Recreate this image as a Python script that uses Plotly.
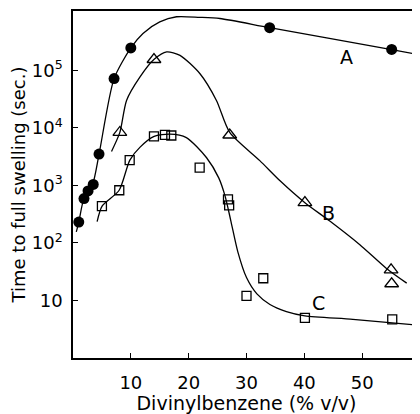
import plotly.graph_objects as go

# Measured points
a_x = [1.0, 1.9, 2.6, 3.5, 4.5, 7.1, 10.0, 34.0, 55.1]
a_y = [230, 590, 800, 1040, 3500, 71600, 245000, 550000, 230000]

b_x = [8.1, 14.0, 27.1, 40.1, 55.0, 55.1]
b_y = [8300, 154000, 7500, 500, 34, 19.5]

c_x = [5.0, 8.0, 9.8, 14.0, 15.9, 17.0, 21.9, 26.8, 27.0, 30.0, 32.9, 40.1, 55.2, 60.0]
c_y = [437, 822, 2750, 7100, 7520, 7360, 2040, 571, 449, 12, 24.3, 5.0, 4.7, 2.95]

# Hand-drawn fitted curves
ca_x = [0.57, 1.0, 1.9, 3.4, 4.5, 7.1, 10.0, 12.1, 15.0, 17.9, 21.9, 25.4, 34.0, 55.1, 58.8]
ca_y = [155, 230, 600, 1050, 3470, 71600, 245000, 437000, 692000, 851000, 832000, 794000, 550000, 229000, 195000]

cb_x = [6.66, 8.1, 9.26, 11.56, 14.03, 16.2, 18.5, 21.96, 24.8, 27.1, 32.3, 35.8, 40.1, 44.4, 49.6, 54.2, 57.7]
cb_y = [3890, 8320, 29900, 75900, 155000, 209000, 182000, 87100, 29900, 8320, 2690, 1200, 500, 240, 93, 36, 20]

cc_x = [4.17, 5.03, 7.98, 9.83, 11.56, 14.03, 16.75, 19.6, 23.1, 25.2, 26.3, 27.3, 28.5, 30.0, 31.8, 34.05, 36.9, 40.1, 48.4, 60.0]
cc_y = [234, 437, 822, 2750, 4570, 7080, 7760, 6760, 3020, 1350, 650, 240, 70, 25, 13, 8.5, 6.4, 5.4, 4.7, 3.7]

x_ticks = [10, 20, 30, 40, 50]
y_ticks = [10, 100, 1000, 10000, 100000]
y_tick_text = ["10", "10<sup>2</sup>", "10<sup>3</sup>", "10<sup>4</sup>", "10<sup>5</sup>"]

FONT = "DejaVu Sans"
line = dict(color="black", width=1.3, shape="spline", smoothing=0.7)

fig = go.Figure()
fig.add_trace(go.Scatter(x=ca_x, y=ca_y, mode="lines", line=line, hoverinfo="skip"))
fig.add_trace(go.Scatter(x=cb_x, y=cb_y, mode="lines", line=line, hoverinfo="skip"))
fig.add_trace(go.Scatter(x=cc_x, y=cc_y, mode="lines", line=line, hoverinfo="skip"))

fig.add_trace(go.Scatter(x=a_x, y=a_y, mode="markers",
                         marker=dict(symbol="circle", size=11, color="black")))
fig.add_trace(go.Scatter(x=b_x, y=b_y, mode="markers",
                         marker=dict(symbol="triangle-up-open", size=12, color="black",
                                     line=dict(width=1.3))))
fig.add_trace(go.Scatter(x=c_x, y=c_y, mode="markers",
                         marker=dict(symbol="square-open", size=9, color="black",
                                     line=dict(width=1.3))))

for txt, x, y in [("A", 47.3, 5.23), ("B", 44.1, 2.52), ("C", 42.4, 0.95)]:
    fig.add_annotation(x=x, y=y, text=txt, showarrow=False,
                       font=dict(family=FONT, size=19, color="black"))

# The page body adds an 8px margin, so the figure is sized/offset to compensate.
fig.update_layout(
    width=412, height=406,
    margin=dict(l=65, r=0, t=3, b=56),
    paper_bgcolor="white", plot_bgcolor="white",
    showlegend=False,
    font=dict(family=FONT, color="black"),
)
fig.update_xaxes(
    range=[0, 60.0], showgrid=False, zeroline=False, automargin=False,
    showline=True, linecolor="black", linewidth=1.5, mirror=True,
    ticks="inside", ticklen=5, tickcolor="black", tickwidth=1.2,
    tickvals=x_ticks, ticktext=[str(v) for v in x_ticks],
    tickfont=dict(size=18), ticklabelstandoff=8,
    title=dict(text="Divinylbenzene (% v/v)", font=dict(size=19), standoff=7),
)
fig.update_yaxes(
    type="log", range=[0, 6.03], showgrid=False, zeroline=False, automargin=False,
    showline=True, linecolor="black", linewidth=1.5, mirror=True,
    ticks="inside", ticklen=5, tickcolor="black", tickwidth=1.2,
    tickvals=y_ticks, ticktext=y_tick_text,
    tickfont=dict(size=18), ticklabelstandoff=5,
    title=dict(text="Time to full swelling (sec.)", font=dict(size=18), standoff=4),
)

fig.write_html("out.html")
